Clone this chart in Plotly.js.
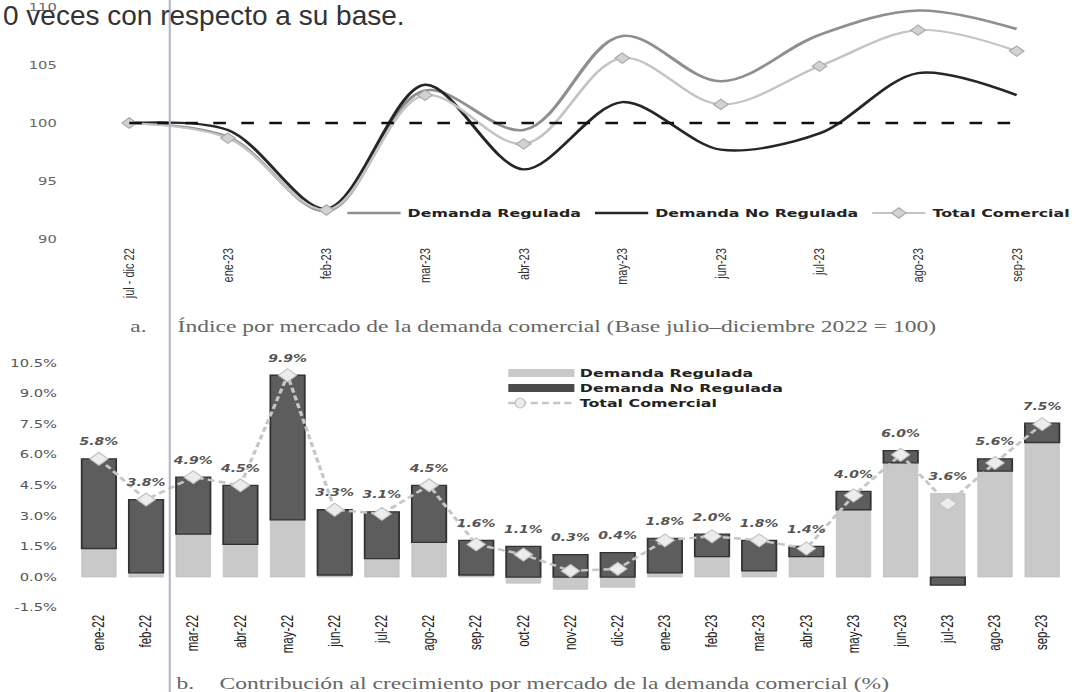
<!DOCTYPE html>
<html><head><meta charset="utf-8">
<script src="https://cdn.plot.ly/plotly-3.0.1.min.js"></script>
<style>
html,body{margin:0;padding:0;background:#fff;overflow:hidden;width:1077px;height:692px;}
#wrap{position:absolute;left:0;top:0;width:769px;height:692px;transform:scaleX(1.40052);transform-origin:0 0;}
#note{position:absolute;left:3px;top:2px;font-family:'Liberation Sans',Arial,sans-serif;font-size:28px;line-height:28px;color:#333;white-space:nowrap;z-index:5;}
</style></head><body>
<div id="wrap"><div id="plot" style="width:769px;height:692px;"></div></div>
<div id="note">0 veces con respecto a su base.</div>
<script>
// ---------- data: chart a (index, base jul-dic 2022 = 100) ----------
const topCategories = ['jul - dic 22','ene-23','feb-23','mar-23','abr-23','may-23','jun-23','jul-23','ago-23','sep-23'];
const topRegulada   = [100, 98.8, 92.4, 102.8, 99.4, 107.5, 103.6, 107.6, 109.7, 108.1];
const topNoRegulada = [100, 99.4, 92.6, 103.3, 96.0, 101.8, 97.7, 99.1, 104.3, 102.4];
const topTotal      = [100, 98.7, 92.5, 102.4, 98.2, 105.6, 101.6, 104.9, 108.0, 106.2];
const topTickValues = [90, 95, 100, 105, 110];
const baseIndex = 100;

// ---------- data: chart b (contribution to growth, %) ----------
const botCategories = ['ene-22','feb-22','mar-22','abr-22','may-22','jun-22','jul-22','ago-22','sep-22','oct-22','nov-22','dic-22','ene-23','feb-23','mar-23','abr-23','may-23','jun-23','jul-23','ago-23','sep-23'];
const botRegulada   = [1.4, 0.2, 2.1, 1.6, 2.8, 0.1, 0.9, 1.7, 0.1, -0.3, -0.6, -0.5, 0.2, 1.0, 0.3, 1.0, 3.3, 5.6, 4.1, 5.2, 6.6];
const botNoRegulada = [4.4, 3.6, 2.8, 2.9, 7.1, 3.2, 2.3, 2.8, 1.7, 1.5, 1.1, 1.2, 1.7, 1.1, 1.5, 0.5, 0.9, 0.6, -0.4, 0.6, 0.95];
const botTotal      = [5.8, 3.8, 4.9, 4.5, 9.9, 3.3, 3.1, 4.5, 1.6, 1.1, 0.3, 0.4, 1.8, 2.0, 1.8, 1.4, 4.0, 6.0, 3.6, 5.6, 7.5];
const botTickValues = [-1.5, 0, 1.5, 3, 4.5, 6, 7.5, 9, 10.5];

const seriesNames = ['Demanda Regulada', 'Demanda No Regulada', 'Total Comercial'];
const captionA = 'Índice por mercado de la demanda comercial (Base julio–diciembre 2022 = 100)';
const captionB = 'Contribución al crecimiento por mercado de la demanda comercial (%)';
const introText = '0 veces con respecto a su base.';

// ---------- geometry helpers ----------
const W = 769, H = 692, S = 1077 / 769;
const px = v => v / S / W;         // screen x pixel -> paper
const py = v => 1 - v / H;         // screen y pixel -> paper

document.getElementById('note').textContent = introText;

const labelY = botTotal.map((t, i) => Math.max(t, Math.max(0, botRegulada[i]) + Math.max(0, botNoRegulada[i])));
const labelText = botTotal.map(v => v.toFixed(1) + '%');
const botTickText = botTickValues.map(v => v.toFixed(1) + '%');

const legFont = {family: 'DejaVu Sans', size: 11.3, color: '#222', weight: 'bold'};
const capFont = {family: 'Liberation Serif', size: 16.8, color: '#666'};

const data = [
  {type:'scatter', x: topCategories, y: topRegulada, name: seriesNames[0], mode:'lines',
   line:{color:'#8f8f8f', width:2.6, shape:'spline', smoothing:1}, xaxis:'x', yaxis:'y', hoverinfo:'skip'},
  {type:'scatter', x: topCategories, y: topNoRegulada, name: seriesNames[1], mode:'lines',
   line:{color:'#262626', width:2.4, shape:'spline', smoothing:0.9}, xaxis:'x', yaxis:'y', hoverinfo:'skip'},
  {type:'scatter', x: topCategories, y: topTotal, name: seriesNames[2], mode:'lines+markers',
   line:{color:'#c4c4c4', width:2.2, shape:'spline', smoothing:1},
   marker:{symbol:'diamond', size:8, color:'#d2d2d2', line:{color:'#a9a9a9', width:1}},
   xaxis:'x', yaxis:'y', hoverinfo:'skip'},

  {type:'bar', x: botCategories, y: botRegulada, name: seriesNames[0], showlegend:false,
   marker:{color:'#c9c9c9', line:{color:'#bcbcbc', width:0.6}}, xaxis:'x2', yaxis:'y2', hoverinfo:'skip'},
  {type:'bar', x: botCategories, y: botNoRegulada, name: seriesNames[1], showlegend:false,
   marker:{color:'#5d5d5d', line:{color:'#333333', width:1.3}}, xaxis:'x2', yaxis:'y2', hoverinfo:'skip'},
  {type:'scatter', x: botCategories, y: botTotal, name: seriesNames[2], showlegend:false, mode:'lines+markers',
   line:{color:'#c6c6c6', width:2.4, dash:'5px,3px'},
   marker:{symbol:'diamond', size:10, color:'#ececec', line:{color:'#c2c2c2', width:1}},
   xaxis:'x2', yaxis:'y2', hoverinfo:'skip'},
  {type:'scatter', x: botCategories, y: labelY, text: labelText, showlegend:false, mode:'markers+text',
   textposition:'top center', marker:{size:16, opacity:0},
   textfont:{family:'DejaVu Sans', size:10, color:'#555', weight:'bold', style:'italic'},
   cliponaxis:false, xaxis:'x2', yaxis:'y2', hoverinfo:'skip'}
];

const axisCommon = {showgrid:false, zeroline:false, showline:false, ticks:''};

const layout = {
  width: W, height: H,
  margin:{l:0, r:0, t:0, b:0},
  paper_bgcolor:'#fff', plot_bgcolor:'rgba(0,0,0,0)',
  barmode:'relative', bargap:0.27,
  showlegend:true,
  legend:{orientation:'h', x: px(345), xanchor:'left', y: py(213), yanchor:'middle',
          font: legFont, bgcolor:'rgba(0,0,0,0)', itemwidth:38, traceorder:'normal'},
  xaxis: Object.assign({}, axisCommon, {anchor:'y', domain:[px(76), px(1075)], type:'category',
          range:[-0.55, 9.45], tickangle:-90, ticklabelstandoff:6,
          tickfont:{family:'Liberation Sans', size:11, color:'#333'}}),
  yaxis: Object.assign({}, axisCommon, {anchor:'x', domain:[py(239), py(7)], range:[90, 110],
          tickmode:'array', tickvals: topTickValues, ticktext: topTickValues.map(String),
          ticklabelstandoff:12, ticklabeloverflow:'allow',
          tickfont:{family:'DejaVu Sans', size:10.5, color:'#666'}}),
  xaxis2: Object.assign({}, axisCommon, {anchor:'y2', domain:[px(62), px(1075)], type:'category',
          range:[-0.8, 20.4], tickangle:-90, ticklabelstandoff:4,
          tickfont:{family:'Liberation Sans', size:11.5, color:'#222'}}),
  yaxis2: Object.assign({}, axisCommon, {anchor:'x2', domain:[py(607.6), py(363)], range:[-1.5, 10.5],
          tickmode:'array', tickvals: botTickValues, ticktext: botTickText, ticklabelstandoff:2,
          ticklabeloverflow:'allow',
          tickfont:{family:'DejaVu Sans', size:10.5, color:'#555'}}),
  shapes:[
    {type:'line', xref:'x', yref:'y', x0:0, x1:topCategories.length-1, y0:baseIndex, y1:baseIndex,
     line:{color:'#111', width:2.4, dash:'9px,11px'}},
    {type:'line', xref:'paper', yref:'paper', x0:px(172), x1:px(172), y0:0, y1:1,
     line:{color:'#b6b6c4', width:1.5}},
    // manual legend of chart b
    {type:'rect', xref:'paper', yref:'paper', x0:px(515), x1:px(582), y0:py(377), y1:py(369),
     fillcolor:'#c9c9c9', line:{width:0}},
    {type:'rect', xref:'paper', yref:'paper', x0:px(515), x1:px(582), y0:py(392), y1:py(384),
     fillcolor:'#4a4a4a', line:{width:0}},
    {type:'line', xref:'paper', yref:'paper', x0:px(515), x1:px(582), y0:py(403), y1:py(403),
     line:{color:'#c6c6c6', width:2.4, dash:'5px,3px'}},
    {type:'circle', xref:'paper', yref:'paper', x0:px(522), x1:px(532), y0:py(408), y1:py(398),
     fillcolor:'#ececec', line:{color:'#c2c2c2', width:1}}
  ],
  annotations:[
    {xref:'paper', yref:'paper', x:px(129), y:py(326), xanchor:'left', yanchor:'middle', showarrow:false,
     text:'a.', font: capFont},
    {xref:'paper', yref:'paper', x:px(177), y:py(326), xanchor:'left', yanchor:'middle', showarrow:false,
     text: captionA, font: capFont},
    {xref:'paper', yref:'paper', x:px(176), y:py(683), xanchor:'left', yanchor:'middle', showarrow:false,
     text:'b.', font: capFont},
    {xref:'paper', yref:'paper', x:px(220), y:py(683), xanchor:'left', yanchor:'middle', showarrow:false,
     text: captionB, font: capFont},
    {xref:'paper', yref:'paper', x:px(585), y:py(373), xanchor:'left', yanchor:'middle', showarrow:false,
     text: seriesNames[0], font: legFont},
    {xref:'paper', yref:'paper', x:px(585), y:py(388), xanchor:'left', yanchor:'middle', showarrow:false,
     text: seriesNames[1], font: legFont},
    {xref:'paper', yref:'paper', x:px(585), y:py(403), xanchor:'left', yanchor:'middle', showarrow:false,
     text: seriesNames[2], font: legFont}
  ]
};

Plotly.newPlot('plot', data, layout, {staticPlot:true, displayModeBar:false});
</script></body></html>
